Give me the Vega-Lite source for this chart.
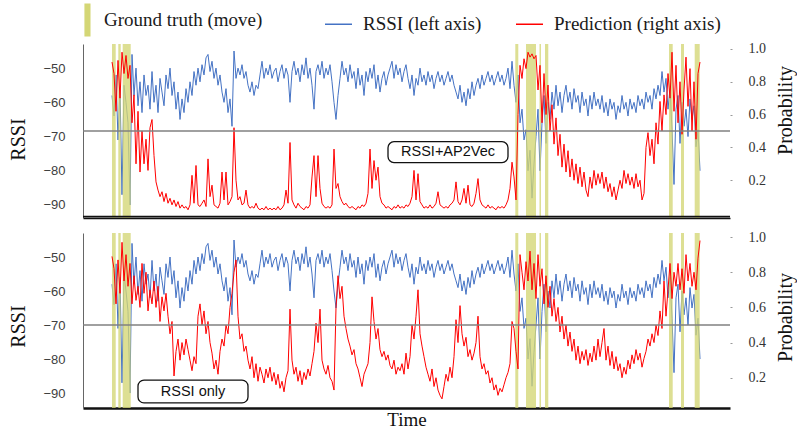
{
"$schema": "https://vega.github.io/schema/vega-lite/v6.json",
"padding": {"left": 8, "top": 5, "right": 2, "bottom": 2},
"background": "white",
"config": {"view": {"stroke": null, "fill": null}, "axis": {"grid": false}},
"spacing": 12,
"resolve": {"scale": {"x": "independent"}, "axis": {"x": "independent"}},
"datasets": {
"one": [{}],
"gt": [{"s":112,"e":115.7},{"s":118.3,"e":120.7},{"s":122.7,"e":130.7},{"s":515.3,"e":518.3},{"s":526,"e":536},{"s":539.5,"e":541},{"s":545,"e":548.3},{"s":669,"e":672.7},{"s":681,"e":684},{"s":694.7,"e":699.7}],
"main": [
{"t":112,"r":-58,"a":0.92,"b":0.89},{"t":114,"r":-64,"a":0.85,"b":0.82},{"t":116,"r":-52,"a":0.62,"b":0.62},{"t":118,"r":-71,"a":0.93,"b":0.87},{"t":120,"r":-56,"a":0.70,"b":0.68},{"t":122,"r":-87,"a":0.98,"b":0.97},{"t":124,"r":-55,"a":0.85,"b":0.75},{"t":126,"r":-60,"a":0.96,"b":0.90},{"t":128,"r":-66,"a":0.82,"b":0.72},{"t":130,"r":-90,"a":0.90,"b":0.85},
{"t":132,"r":-46,"a":0.55,"b":0.62},{"t":134,"r":-58,"a":0.72,"b":0.78},{"t":136,"r":-50,"a":0.30,"b":0.64},{"t":138,"r":-61,"a":0.62,"b":0.72},{"t":140,"r":-54,"a":0.25,"b":0.60},{"t":142,"r":-63,"a":0.50,"b":0.85},{"t":144,"r":-52,"a":0.30,"b":0.68},{"t":146,"r":-58,"a":0.45,"b":0.80},{"t":148,"r":-55,"a":0.26,"b":0.58},{"t":150,"r":-62,"a":0.52,"b":0.70},
{"t":152,"r":-51,"a":0.57,"b":0.62},{"t":154,"r":-60,"a":0.35,"b":0.75},{"t":156,"r":-55,"a":0.19,"b":0.60},{"t":158,"r":-63,"a":0.14,"b":0.72},{"t":160,"r":-53,"a":0.10,"b":0.52},{"t":162,"r":-57,"a":0.13,"b":0.66},{"t":164,"r":-61,"a":0.07,"b":0.58},{"t":166,"r":-52,"a":0.12,"b":0.68},{"t":168,"r":-56,"a":0.06,"b":0.55},{"t":170,"r":-50,"a":0.09,"b":0.45},
{"t":172,"r":-58,"a":0.05,"b":0.52},{"t":174,"r":-54,"a":0.08,"b":0.21},{"t":176,"r":-62,"a":0.04,"b":0.35},{"t":178,"r":-57,"a":0.07,"b":0.42},{"t":180,"r":-65,"a":0.03,"b":0.30},{"t":182,"r":-59,"a":0.05,"b":0.40},{"t":184,"r":-63,"a":0.03,"b":0.33},{"t":186,"r":-56,"a":0.04,"b":0.42},{"t":188,"r":-60,"a":0.02,"b":0.36},{"t":190,"r":-54,"a":0.05,"b":0.30},
{"t":192,"r":-58,"a":0.23,"b":0.24},{"t":194,"r":-51,"a":0.06,"b":0.32},{"t":196,"r":-55,"a":0.29,"b":0.28},{"t":198,"r":-50,"a":0.05,"b":0.55},{"t":200,"r":-54,"a":0.04,"b":0.62},{"t":202,"r":-49,"a":0.06,"b":0.50},{"t":204,"r":-52,"a":0.08,"b":0.58},{"t":206,"r":-47,"a":0.04,"b":0.45},{"t":208,"r":-46,"a":0.33,"b":0.52},{"t":210,"r":-51,"a":0.10,"b":0.40},
{"t":212,"r":-48,"a":0.17,"b":0.34},{"t":214,"r":-53,"a":0.05,"b":0.25},{"t":216,"r":-50,"a":0.04,"b":0.30},{"t":218,"r":-55,"a":0.03,"b":0.22},{"t":220,"r":-52,"a":0.06,"b":0.35},{"t":222,"r":-57,"a":0.25,"b":0.42},{"t":224,"r":-60,"a":0.08,"b":0.38},{"t":226,"r":-56,"a":0.25,"b":0.50},{"t":228,"r":-63,"a":0.05,"b":0.45},{"t":230,"r":-59,"a":0.07,"b":0.60},
{"t":232,"r":-67,"a":0.10,"b":0.68},{"t":234,"r":-45,"a":0.52,"b":0.80},{"t":236,"r":-53,"a":0.20,"b":0.87},{"t":238,"r":-50,"a":0.08,"b":0.55},{"t":240,"r":-52,"a":0.10,"b":0.42},{"t":242,"r":-49,"a":0.05,"b":0.45},{"t":244,"r":-53,"a":0.06,"b":0.35},{"t":246,"r":-51,"a":0.14,"b":0.38},{"t":248,"r":-55,"a":0.05,"b":0.30},{"t":250,"r":-57,"a":0.03,"b":0.25},
{"t":252,"r":-54,"a":0.04,"b":0.32},{"t":254,"r":-58,"a":0.03,"b":0.20},{"t":256,"r":-55,"a":0.06,"b":0.28},{"t":258,"r":-56,"a":0.03,"b":0.18},{"t":260,"r":-52,"a":0.02,"b":0.26},{"t":262,"r":-48,"a":0.03,"b":0.22},{"t":264,"r":-53,"a":0.02,"b":0.17},{"t":266,"r":-50,"a":0.04,"b":0.25},{"t":268,"r":-52,"a":0.02,"b":0.20},{"t":270,"r":-49,"a":0.03,"b":0.26},
{"t":272,"r":-53,"a":0.02,"b":0.18},{"t":274,"r":-51,"a":0.03,"b":0.23},{"t":276,"r":-50,"a":0.02,"b":0.16},{"t":278,"r":-54,"a":0.04,"b":0.22},{"t":280,"r":-51,"a":0.02,"b":0.14},{"t":282,"r":-49,"a":0.03,"b":0.18},{"t":284,"r":-53,"a":0.05,"b":0.12},{"t":286,"r":-50,"a":0.14,"b":0.20},{"t":288,"r":-52,"a":0.06,"b":0.24},{"t":290,"r":-60,"a":0.43,"b":0.59},
{"t":292,"r":-51,"a":0.08,"b":0.30},{"t":294,"r":-48,"a":0.05,"b":0.22},{"t":296,"r":-52,"a":0.03,"b":0.26},{"t":298,"r":-50,"a":0.06,"b":0.18},{"t":300,"r":-54,"a":0.04,"b":0.24},{"t":302,"r":-49,"a":0.03,"b":0.16},{"t":304,"r":-52,"a":0.02,"b":0.23},{"t":306,"r":-47,"a":0.04,"b":0.19},{"t":308,"r":-53,"a":0.03,"b":0.25},{"t":310,"r":-50,"a":0.05,"b":0.21},
{"t":312,"r":-55,"a":0.22,"b":0.28},{"t":314,"r":-62,"a":0.35,"b":0.35},{"t":316,"r":-51,"a":0.10,"b":0.51},{"t":318,"r":-49,"a":0.35,"b":0.40},{"t":320,"r":-52,"a":0.15,"b":0.59},{"t":322,"r":-48,"a":0.06,"b":0.30},{"t":324,"r":-53,"a":0.04,"b":0.25},{"t":326,"r":-50,"a":0.03,"b":0.22},{"t":328,"r":-52,"a":0.04,"b":0.27},{"t":330,"r":-49,"a":0.03,"b":0.20},
{"t":332,"r":-54,"a":0.05,"b":0.18},{"t":334,"r":-60,"a":0.39,"b":0.13},{"t":336,"r":-65,"a":0.15,"b":0.60},{"t":338,"r":-58,"a":0.18,"b":0.78},{"t":340,"r":-53,"a":0.10,"b":0.65},{"t":342,"r":-48,"a":0.07,"b":0.72},{"t":344,"r":-52,"a":0.05,"b":0.55},{"t":346,"r":-50,"a":0.06,"b":0.48},{"t":348,"r":-54,"a":0.04,"b":0.42},{"t":350,"r":-49,"a":0.03,"b":0.38},
{"t":352,"r":-53,"a":0.04,"b":0.33},{"t":354,"r":-51,"a":0.03,"b":0.36},{"t":356,"r":-56,"a":0.02,"b":0.28},{"t":358,"r":-50,"a":0.04,"b":0.25},{"t":360,"r":-55,"a":0.03,"b":0.20},{"t":362,"r":-52,"a":0.05,"b":0.15},{"t":364,"r":-58,"a":0.04,"b":0.22},{"t":366,"r":-51,"a":0.06,"b":0.25},{"t":368,"r":-54,"a":0.12,"b":0.28},{"t":370,"r":-50,"a":0.39,"b":0.40},
{"t":372,"r":-53,"a":0.15,"b":0.66},{"t":374,"r":-49,"a":0.32,"b":0.52},{"t":376,"r":-56,"a":0.20,"b":0.42},{"t":378,"r":-52,"a":0.28,"b":0.48},{"t":380,"r":-57,"a":0.10,"b":0.36},{"t":382,"r":-53,"a":0.06,"b":0.32},{"t":384,"r":-51,"a":0.05,"b":0.35},{"t":386,"r":-55,"a":0.03,"b":0.30},{"t":388,"r":-52,"a":0.04,"b":0.33},{"t":390,"r":-50,"a":0.03,"b":0.27},
{"t":392,"r":-48,"a":0.02,"b":0.25},{"t":394,"r":-53,"a":0.04,"b":0.30},{"t":396,"r":-49,"a":0.03,"b":0.22},{"t":398,"r":-52,"a":0.05,"b":0.26},{"t":400,"r":-50,"a":0.03,"b":0.24},{"t":402,"r":-54,"a":0.04,"b":0.28},{"t":404,"r":-51,"a":0.03,"b":0.22},{"t":406,"r":-49,"a":0.05,"b":0.34},{"t":408,"r":-53,"a":0.04,"b":0.25},{"t":410,"r":-56,"a":0.06,"b":0.32},
{"t":412,"r":-52,"a":0.10,"b":0.50},{"t":414,"r":-58,"a":0.26,"b":0.42},{"t":416,"r":-53,"a":0.08,"b":0.55},{"t":418,"r":-55,"a":0.24,"b":0.70},{"t":420,"r":-50,"a":0.07,"b":0.45},{"t":422,"r":-54,"a":0.05,"b":0.38},{"t":424,"r":-52,"a":0.03,"b":0.32},{"t":426,"r":-55,"a":0.04,"b":0.26},{"t":428,"r":-51,"a":0.03,"b":0.22},{"t":430,"r":-54,"a":0.05,"b":0.18},
{"t":432,"r":-52,"a":0.03,"b":0.25},{"t":434,"r":-56,"a":0.04,"b":0.15},{"t":436,"r":-53,"a":0.06,"b":0.20},{"t":438,"r":-51,"a":0.13,"b":0.13},{"t":440,"r":-54,"a":0.05,"b":0.10},{"t":442,"r":-52,"a":0.04,"b":0.08},{"t":444,"r":-55,"a":0.03,"b":0.15},{"t":446,"r":-53,"a":0.04,"b":0.22},{"t":448,"r":-51,"a":0.03,"b":0.18},{"t":450,"r":-54,"a":0.05,"b":0.26},
{"t":452,"r":-52,"a":0.06,"b":0.20},{"t":454,"r":-55,"a":0.08,"b":0.32},{"t":456,"r":-57,"a":0.19,"b":0.53},{"t":458,"r":-59,"a":0.07,"b":0.40},{"t":460,"r":-55,"a":0.05,"b":0.61},{"t":462,"r":-60,"a":0.08,"b":0.45},{"t":464,"r":-57,"a":0.15,"b":0.38},{"t":466,"r":-61,"a":0.06,"b":0.43},{"t":468,"r":-56,"a":0.17,"b":0.32},{"t":470,"r":-59,"a":0.05,"b":0.36},
{"t":472,"r":-54,"a":0.04,"b":0.30},{"t":474,"r":-58,"a":0.06,"b":0.34},{"t":476,"r":-55,"a":0.12,"b":0.40},{"t":478,"r":-53,"a":0.21,"b":0.55},{"t":480,"r":-56,"a":0.08,"b":0.32},{"t":482,"r":-52,"a":0.05,"b":0.25},{"t":484,"r":-55,"a":0.04,"b":0.28},{"t":486,"r":-53,"a":0.03,"b":0.22},{"t":488,"r":-51,"a":0.05,"b":0.24},{"t":490,"r":-54,"a":0.03,"b":0.17},
{"t":492,"r":-52,"a":0.04,"b":0.20},{"t":494,"r":-55,"a":0.03,"b":0.13},{"t":496,"r":-53,"a":0.02,"b":0.16},{"t":498,"r":-51,"a":0.04,"b":0.10},{"t":500,"r":-54,"a":0.03,"b":0.14},{"t":502,"r":-52,"a":0.04,"b":0.12},{"t":504,"r":-55,"a":0.03,"b":0.16},{"t":506,"r":-53,"a":0.05,"b":0.20},{"t":508,"r":-50,"a":0.08,"b":0.23},{"t":510,"r":-56,"a":0.15,"b":0.28},
{"t":512,"r":-48,"a":0.31,"b":0.52},{"t":514,"r":-55,"a":0.22,"b":0.48},{"t":516,"r":-60,"a":0.08,"b":0.35},{"t":518,"r":-52,"a":0.60,"b":0.25},{"t":520,"r":-66,"a":0.90,"b":0.90},{"t":522,"r":-62,"a":0.82,"b":0.80},{"t":524,"r":-71,"a":0.94,"b":0.70},{"t":526,"r":-68,"a":0.88,"b":0.86},{"t":528,"r":-80,"a":0.98,"b":0.75},{"t":530,"r":-74,"a":0.95,"b":0.92},
{"t":532,"r":-88,"a":0.97,"b":0.70},{"t":534,"r":-78,"a":0.94,"b":0.85},{"t":536,"r":-70,"a":0.96,"b":0.65},{"t":538,"r":-62,"a":0.75,"b":0.90},{"t":540,"r":-80,"a":0.90,"b":0.72},{"t":542,"r":-66,"a":0.55,"b":0.82},{"t":544,"r":-58,"a":0.85,"b":0.62},{"t":546,"r":-72,"a":0.60,"b":0.78},{"t":548,"r":-60,"a":0.78,"b":0.60},{"t":550,"r":-65,"a":0.50,"b":0.72},
{"t":552,"r":-57,"a":0.66,"b":0.55},{"t":554,"r":-62,"a":0.42,"b":0.65},{"t":556,"r":-55,"a":0.58,"b":0.52},{"t":558,"r":-61,"a":0.35,"b":0.60},{"t":560,"r":-57,"a":0.48,"b":0.46},{"t":562,"r":-63,"a":0.28,"b":0.55},{"t":564,"r":-58,"a":0.42,"b":0.42},{"t":566,"r":-55,"a":0.25,"b":0.50},{"t":568,"r":-60,"a":0.38,"b":0.38},{"t":570,"r":-57,"a":0.22,"b":0.46},
{"t":572,"r":-62,"a":0.33,"b":0.35},{"t":574,"r":-56,"a":0.20,"b":0.42},{"t":576,"r":-60,"a":0.30,"b":0.30},{"t":578,"r":-58,"a":0.18,"b":0.38},{"t":580,"r":-63,"a":0.28,"b":0.28},{"t":582,"r":-57,"a":0.16,"b":0.35},{"t":584,"r":-61,"a":0.25,"b":0.30},{"t":586,"r":-59,"a":0.14,"b":0.36},{"t":588,"r":-64,"a":0.10,"b":0.27},{"t":590,"r":-58,"a":0.22,"b":0.34},
{"t":592,"r":-62,"a":0.15,"b":0.29},{"t":594,"r":-57,"a":0.26,"b":0.38},{"t":596,"r":-61,"a":0.17,"b":0.30},{"t":598,"r":-59,"a":0.24,"b":0.42},{"t":600,"r":-62,"a":0.18,"b":0.32},{"t":602,"r":-58,"a":0.25,"b":0.40},{"t":604,"r":-63,"a":0.15,"b":0.48},{"t":606,"r":-60,"a":0.22,"b":0.30},{"t":608,"r":-64,"a":0.13,"b":0.38},{"t":610,"r":-59,"a":0.18,"b":0.27},
{"t":612,"r":-62,"a":0.10,"b":0.35},{"t":614,"r":-60,"a":0.16,"b":0.25},{"t":616,"r":-65,"a":0.08,"b":0.32},{"t":618,"r":-61,"a":0.14,"b":0.24},{"t":620,"r":-63,"a":0.20,"b":0.28},{"t":622,"r":-58,"a":0.15,"b":0.20},{"t":624,"r":-62,"a":0.26,"b":0.26},{"t":626,"r":-60,"a":0.18,"b":0.22},{"t":628,"r":-64,"a":0.24,"b":0.30},{"t":630,"r":-59,"a":0.17,"b":0.25},
{"t":632,"r":-62,"a":0.22,"b":0.33},{"t":634,"r":-60,"a":0.15,"b":0.28},{"t":636,"r":-63,"a":0.24,"b":0.36},{"t":638,"r":-58,"a":0.16,"b":0.30},{"t":640,"r":-61,"a":0.20,"b":0.34},{"t":642,"r":-59,"a":0.08,"b":0.26},{"t":644,"r":-62,"a":0.12,"b":0.31},{"t":646,"r":-57,"a":0.40,"b":0.35},{"t":648,"r":-60,"a":0.49,"b":0.42},{"t":650,"r":-58,"a":0.35,"b":0.38},
{"t":652,"r":-62,"a":0.45,"b":0.45},{"t":654,"r":-56,"a":0.30,"b":0.40},{"t":656,"r":-59,"a":0.55,"b":0.50},{"t":658,"r":-55,"a":0.42,"b":0.44},{"t":660,"r":-58,"a":0.68,"b":0.58},{"t":662,"r":-51,"a":0.50,"b":0.48},{"t":664,"r":-57,"a":0.72,"b":0.75},{"t":666,"r":-53,"a":0.60,"b":0.55},{"t":668,"r":-62,"a":0.85,"b":0.70},{"t":670,"r":-56,"a":0.70,"b":0.85},
{"t":672,"r":-68,"a":0.98,"b":0.65},{"t":674,"r":-84,"a":0.62,"b":0.80},{"t":676,"r":-62,"a":0.90,"b":0.72},{"t":678,"r":-58,"a":0.55,"b":0.85},{"t":680,"r":-72,"a":0.80,"b":0.70},{"t":682,"r":-60,"a":0.48,"b":0.82},{"t":684,"r":-67,"a":0.75,"b":0.68},{"t":686,"r":-62,"a":0.95,"b":0.90},{"t":688,"r":-70,"a":0.65,"b":0.75},{"t":690,"r":-59,"a":0.88,"b":0.85},
{"t":692,"r":-65,"a":0.50,"b":0.72},{"t":694,"r":-61,"a":0.80,"b":0.80},{"t":696,"r":-73,"a":0.45,"b":0.70},{"t":698,"r":-68,"a":0.85,"b":0.88},{"t":700,"r":-80,"a":0.92,"b":0.98}
]
},
"vconcat": [
{
"width": 647, "height": 174,
"resolve": {"scale": {"y": "independent"}},
"layer": [
{"data": {"name": "main"}, "mark": {"type": "line", "strokeWidth": 1},
 "encoding": {
  "x": {"field": "t", "type": "quantitative", "scale": {"domain": [83, 730], "nice": false, "zero": false},
        "axis": {"orient": "bottom", "labels": false, "ticks": false, "domain": true, "domainColor": "#111", "domainWidth": 1.5, "title": "", "titlePadding": 0}},
  "y": {"field": "r", "type": "quantitative", "scale": {"domain": [-93.8, -42.95], "nice": false, "zero": false},
        "axis": {"orient": "left", "values": [-50, -60, -70, -80, -90], "ticks": false, "labelPadding": 18, "labelFont": "Liberation Sans", "labelFontSize": 13, "labelColor": "#404040", "domainColor": "#666", "title": "RSSI", "titleFont": "Liberation Serif", "titleFontSize": 20, "titleFontWeight": "normal", "titleColor": "#111", "titlePadding": 14, "titleY": 95}},
  "color": {"datum": "RSSI (left axis)", "scale": {"domain": ["Ground truth (move)", "RSSI (left axis)", "Prediction (right axis)"], "range": ["#d4d675", "#4472c4", "#ff0000"]},
   "legend": {"orient": "none", "legendX": -18, "legendY": -39, "direction": "horizontal", "columns": 3, "title": null,
     "labelFont": "Liberation Serif", "labelFontSize": 19, "labelColor": "#1a1a1a", "labelOffset": 10, "columnPadding": 31, "symbolSize": 729, "symbolStrokeWidth": 1.5, "labelLimit": 400,
     "labelExpr": "datum.label === 'Ground truth (move)' ? 'Ground truth (move)\u2800\u2800' : datum.label",
     "encode": {"symbols": {"update": {
       "shape": {"signal": "datum.value === 'Ground truth (move)' ? 'M0.42,-1.15H0.76V1.2H0.42Z' : 'stroke'"},
       "fill": {"signal": "datum.value === 'Ground truth (move)' ? '#d4d675' : 'transparent'"},
       "stroke": {"signal": "datum.value === 'Ground truth (move)' ? 'transparent' : (datum.value === 'RSSI (left axis)' ? '#4472c4' : '#ff0000')"},
       "opacity": {"value": 1}
     }}}}}
 }},
{"data": {"name": "gt"}, "mark": {"type": "rect", "opacity": 0.78},
 "encoding": {"x": {"field": "s", "type": "quantitative"}, "x2": {"field": "e"}, "color": {"datum": "Ground truth (move)"}}},
{"data": {"name": "main"}, "mark": {"type": "line", "strokeWidth": 1},
 "encoding": {
  "x": {"field": "t", "type": "quantitative"},
  "y": {"field": "a", "type": "quantitative", "scale": {"domain": [-0.03, 1.03], "nice": false, "zero": false},
        "axis": {"orient": "right", "values": [0.2, 0.4, 0.6, 0.8, 1.0], "format": ".1f", "domain": false, "tickSize": 2, "tickColor": "#999", "labelPadding": 16, "labelFont": "Liberation Serif", "labelFontSize": 14, "labelColor": "#333", "title": "Probability", "titleAngle": 270, "titleBaseline": "top", "titleFont": "Liberation Serif", "titleFontSize": 20, "titleFontWeight": "normal", "titleColor": "#111", "titlePadding": 10, "titleY": 66}},
  "color": {"datum": "Prediction (right axis)"}
 }},
{"data": {"name": "one"}, "mark": {"type": "rule", "color": "#808080", "strokeWidth": 1.5},
 "encoding": {"x": {"datum": 83, "type": "quantitative"}, "x2": {"datum": 730},
   "y": {"datum": 0.5, "type": "quantitative", "scale": {"domain": [-0.03, 1.03], "nice": false, "zero": false}, "axis": null}}},
{"data": {"name": "one"}, "mark": {"type": "rect", "fill": "#111"},
 "encoding": {"x": {"datum": 83, "type": "quantitative"}, "x2": {"datum": 730},
   "y": {"datum": 0.5, "type": "quantitative", "scale": {"domain": [0, 174], "nice": false, "zero": false}, "axis": null}, "y2": {"datum": 2.2}}},
{"data": {"name": "one"}, "mark": {"type": "rect", "fill": "white", "stroke": "#111", "strokeWidth": 1.3, "cornerRadius": 6},
 "encoding": {"x": {"datum": 388, "type": "quantitative"}, "x2": {"datum": 508},
   "y": {"datum": -71.5, "type": "quantitative", "scale": {"domain": [-93.8, -42.95], "nice": false, "zero": false}, "axis": null}, "y2": {"datum": -77.6}}},
{"data": {"name": "one"}, "mark": {"type": "text", "font": "Liberation Sans", "fontSize": 14.5, "color": "#111", "align": "center", "baseline": "middle"},
 "encoding": {"x": {"datum": 448, "type": "quantitative"},
   "y": {"datum": -74.6, "type": "quantitative", "scale": {"domain": [-93.8, -42.95], "nice": false, "zero": false}, "axis": null},
   "text": {"value": "RSSI+AP2Vec"}}}
]
},
{
"width": 647, "height": 175,
"resolve": {"scale": {"y": "independent"}},
"layer": [
{"data": {"name": "main"}, "mark": {"type": "line", "strokeWidth": 1, "color": "#4472c4"},
 "encoding": {
  "x": {"field": "t", "type": "quantitative", "title": "Time", "scale": {"domain": [83, 730], "nice": false, "zero": false},
        "axis": {"labels": false, "ticks": false, "domain": true, "domainColor": "#111", "domainWidth": 2.5, "title": "Time", "titleFont": "Liberation Serif", "titleFontSize": 19, "titleFontWeight": "normal", "titleColor": "#111", "titlePadding": 2}},
  "y": {"field": "r", "type": "quantitative", "scale": {"domain": [-94.4, -42.94], "nice": false, "zero": false},
        "axis": {"orient": "left", "values": [-50, -60, -70, -80, -90], "ticks": false, "labelPadding": 18, "labelFont": "Liberation Sans", "labelFontSize": 13, "labelColor": "#404040", "domainColor": "#666", "title": "RSSI", "titleFont": "Liberation Serif", "titleFontSize": 20, "titleFontWeight": "normal", "titleColor": "#111", "titlePadding": 14, "titleY": 93}}
 }},
{"data": {"name": "gt"}, "mark": {"type": "rect", "opacity": 0.78, "color": "#d4d675"},
 "encoding": {"x": {"field": "s", "type": "quantitative", "title": "Time"}, "x2": {"field": "e"}}},
{"data": {"name": "main"}, "mark": {"type": "line", "strokeWidth": 1, "color": "#ff0000"},
 "encoding": {
  "x": {"field": "t", "type": "quantitative", "title": "Time"},
  "y": {"field": "b", "type": "quantitative", "scale": {"domain": [0.028, 1.023], "nice": false, "zero": false},
        "axis": {"orient": "right", "values": [0.2, 0.4, 0.6, 0.8, 1.0], "format": ".1f", "domain": false, "tickSize": 2, "tickColor": "#999", "labelPadding": 16, "labelFont": "Liberation Serif", "labelFontSize": 14, "labelColor": "#333", "title": "Probability", "titleAngle": 270, "titleBaseline": "top", "titleFont": "Liberation Serif", "titleFontSize": 20, "titleFontWeight": "normal", "titleColor": "#111", "titlePadding": 10, "titleY": 84}}
 }},
{"data": {"name": "one"}, "mark": {"type": "rule", "color": "#808080", "strokeWidth": 1.5},
 "encoding": {"x": {"datum": 83, "type": "quantitative"}, "x2": {"datum": 730},
   "y": {"datum": 0.5, "type": "quantitative", "scale": {"domain": [0.028, 1.023], "nice": false, "zero": false}, "axis": null}}},
{"data": {"name": "one"}, "mark": {"type": "rect", "fill": "white", "stroke": "#111", "strokeWidth": 1.3, "cornerRadius": 6},
 "encoding": {"x": {"datum": 138, "type": "quantitative"}, "x2": {"datum": 248},
   "y": {"datum": -86.2, "type": "quantitative", "scale": {"domain": [-94.4, -42.94], "nice": false, "zero": false}, "axis": null}, "y2": {"datum": -92.9}}},
{"data": {"name": "one"}, "mark": {"type": "text", "font": "Liberation Sans", "fontSize": 14.5, "color": "#111", "align": "center", "baseline": "middle"},
 "encoding": {"x": {"datum": 193, "type": "quantitative"},
   "y": {"datum": -89.6, "type": "quantitative", "scale": {"domain": [-94.4, -42.94], "nice": false, "zero": false}, "axis": null},
   "text": {"value": "RSSI only"}}}
]
}
]
}
